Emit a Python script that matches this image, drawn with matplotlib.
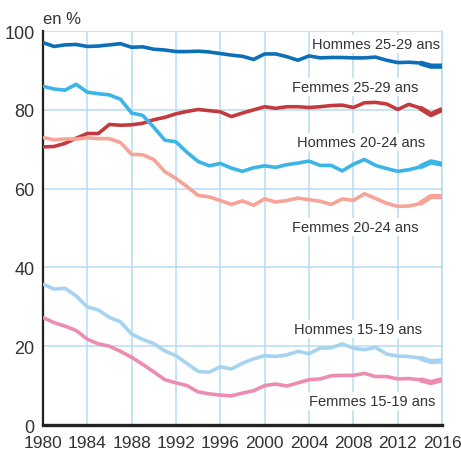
import numpy as np
import matplotlib
matplotlib.use('Agg')
import matplotlib.pyplot as plt

plt.rcParams['font.family'] = ['Liberation Sans', 'DejaVu Sans']

years = list(range(1980, 2017))

hommes_25_29 = [97.1, 96.1, 96.5, 96.6, 96.1, 96.2, 96.5, 96.8, 95.9, 96.0,
                95.4, 95.2, 94.8, 94.8, 94.9, 94.7, 94.3, 93.9, 93.6, 92.8,
                94.2, 94.2, 93.5, 92.6, 93.7, 93.2, 93.3, 93.3, 93.2, 93.2,
                93.4, 92.6, 92.0, 92.1, 91.9, 91.1, 91.1]
femmes_25_29 = [70.6, 70.7, 71.5, 72.8, 74.0, 74.0, 76.3, 76.1, 76.2, 76.6,
                77.5, 78.1, 79.0, 79.6, 80.1, 79.8, 79.5, 78.3, 79.2, 80.0,
                80.8, 80.4, 80.8, 80.8, 80.6, 80.8, 81.1, 81.2, 80.6, 81.8,
                81.9, 81.5, 80.1, 81.4, 80.5, 78.8, 80.1]
hommes_20_24 = [86.0, 85.3, 85.0, 86.5, 84.5, 84.1, 83.8, 82.7, 79.2, 78.6,
                75.6, 72.3, 71.9, 69.2, 66.9, 65.8, 66.4, 65.2, 64.4, 65.3,
                65.8, 65.4, 66.1, 66.5, 67.0, 65.9, 65.9, 64.5, 66.2, 67.4,
                65.9, 65.1, 64.4, 64.8, 65.5, 66.8, 66.2]
femmes_20_24 = [73.0, 72.4, 72.6, 72.6, 72.9, 72.7, 72.7, 71.7, 68.7, 68.6,
                67.4, 64.3, 62.6, 60.5, 58.3, 57.9, 57.0, 56.0, 56.9, 55.8,
                57.4, 56.6, 57.0, 57.6, 57.2, 56.8, 56.0, 57.4, 57.0, 58.7,
                57.5, 56.3, 55.5, 55.6, 56.2, 58.0, 58.0]
hommes_15_19 = [35.8, 34.5, 34.7, 32.8, 30.0, 29.2, 27.3, 26.2, 23.1, 21.7,
                20.7, 18.8, 17.6, 15.6, 13.6, 13.4, 14.8, 14.2, 15.7, 16.8,
                17.6, 17.4, 17.8, 18.7, 18.1, 19.5, 19.6, 20.6, 19.5, 19.1,
                19.7, 18.0, 17.5, 17.4, 17.0, 16.1, 16.3]
femmes_15_19 = [27.3, 26.0, 25.1, 24.0, 21.8, 20.6, 20.0, 18.7, 17.2, 15.4,
                13.5, 11.5, 10.7, 10.0, 8.4, 7.9, 7.6, 7.4, 8.1, 8.7,
                10.0, 10.4, 9.9, 10.7, 11.5, 11.7, 12.5, 12.6, 12.6, 13.1,
                12.3, 12.3, 11.7, 11.8, 11.5, 10.8, 11.5]

series = [
    ('Hommes 25-29 ans', hommes_25_29, '#0d6fb5', (2010.0, 96.7)),
    ('Femmes 25-29 ans', femmes_25_29, '#c13b3e', (2008.2, 85.8)),
    ('Hommes 20-24 ans', hommes_20_24, '#3bb4e7', (2008.7, 71.9)),
    ('Femmes 20-24 ans', femmes_20_24, '#f6a497', (2008.2, 50.3)),
    ('Hommes 15-19 ans', hommes_15_19, '#a6d3ef', (2008.4, 24.4)),
    ('Femmes 15-19 ans', femmes_15_19, '#ec8cb0', (2009.7, 6.1)),
]

fig = plt.figure(figsize=(4.61, 4.52), dpi=100)
ax = fig.add_axes([0.093, 0.0575, 0.866, 0.8715])

grid_c = '#b5ddf3'
text_c = '#333333'

for name, vals, col, pos in series:
    ax.plot(years, vals, color=col, lw=2.6, solid_capstyle='butt', zorder=3)
    # last years drawn a bit thicker (series break)
    ax.plot(years[-3:], vals[-3:], color=col, lw=3.8, solid_capstyle='butt', zorder=3)
    ax.text(pos[0], pos[1], name, ha='center', va='center', fontsize=10.5,
            color=text_c, zorder=2,
            bbox=dict(fc='white', ec='none', pad=1.5))

ax.set_xlim(1980, 2016)
ax.set_ylim(0, 100)
ax.set_xticks(range(1980, 2017, 4))
ax.set_yticks(range(0, 101, 20))
ax.set_axisbelow(True)
ax.grid(True, color=grid_c, lw=1.1)
ax.tick_params(length=0, labelsize=13, colors=text_c)
ax.tick_params(axis='y', pad=6)
ax.tick_params(axis='x', pad=7, labelsize=12.5)

ax.spines['right'].set_color(grid_c)
ax.spines['right'].set_linewidth(1.1)
ax.spines['top'].set_visible(False)
ax.spines['left'].set_color('#222222')
ax.spines['left'].set_linewidth(1.6)
ax.spines['bottom'].set_color('#222222')
ax.spines['bottom'].set_linewidth(2.4)

ax.text(0.0, 1.012, 'en %', transform=ax.transAxes, ha='left', va='bottom',
        fontsize=12, color=text_c)

fig.savefig('out.png', dpi=100)
